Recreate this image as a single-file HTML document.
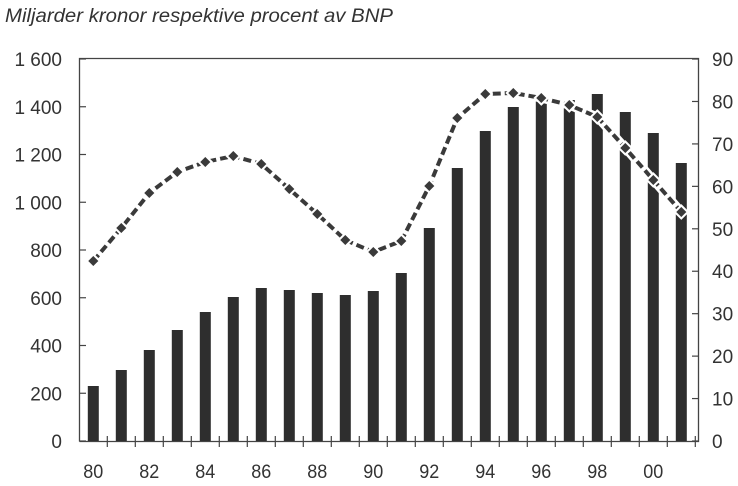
<!DOCTYPE html>
<html><head><meta charset="utf-8"><style>
html,body{margin:0;padding:0;background:#fff;}
svg{display:block;}
text{font-family:"Liberation Sans",sans-serif;fill:#333;}
</style></head><body>
<svg width="738" height="486" viewBox="0 0 738 486">
<text x="5" y="22" font-size="19" font-style="italic" textLength="388" lengthAdjust="spacingAndGlyphs">Miljarder kronor respektive procent av BNP</text>
<g stroke="#444" stroke-width="1.3" fill="none">
<path d="M79.5 441.5 V58.5 H698.5 V441.5 H79.5"/>
</g>
<g id="bars" fill="#2e2e2e"></g>
<g id="ticks" stroke="#444" stroke-width="1.2"></g>
<g id="labels" font-size="19"></g>
<polyline id="lw" fill="none" stroke="#fff" stroke-width="9" stroke-linejoin="round"/>
<polyline id="lb" fill="none" stroke="#3a3a3a" stroke-width="4" stroke-dasharray="8 4"/>
<g id="mk"></g>
</svg>
<script>
var ns="http://www.w3.org/2000/svg";
function el(t,a,p){var e=document.createElementNS(ns,t);for(var k in a)e.setAttribute(k,a[k]);document.getElementById(p).appendChild(e);return e;}
var bars=[386,370,350,330,312,297,288,290,293,295,291,273,228,168,131,107,100,100,94,112,133,163];
var line=[261,228,193,172,162,156,164,189,214,240,252,241,186,118,94,93,98,105,117,148,180,212];
var pts=[];
for(var i=0;i<22;i++){
 var cx=93.3+28*i;
 el("rect",{x:cx-5.5,y:bars[i],width:11,height:441-bars[i]},"bars");
 el("line",{x1:cx+14,y1:436,x2:cx+14,y2:447},"ticks");
 pts.push(cx+","+line[i]);
 if(i%2==0){var t=el("text",{x:cx-10,y:478,textLength:20,lengthAdjust:"spacingAndGlyphs"},"labels");t.textContent=String((80+i)%100).padStart(2,"0");}
}
document.getElementById("lw").setAttribute("points",pts.join(" "));
document.getElementById("lb").setAttribute("points",pts.join(" "));
for(var i=0;i<22;i++){var cx=93.3+28*i,y=line[i];
 el("polygon",{points:(cx)+","+(y-6.5)+" "+(cx+6.5)+","+y+" "+cx+","+(y+6.5)+" "+(cx-6.5)+","+y,fill:"#3a3a3a",stroke:"#fff","stroke-width":2},"mk");}
var L=["0","200","400","600","800","1 000","1 200","1 400","1 600"];
for(var j=0;j<9;j++){var y=441-j*47.75;
 el("line",{x1:79,y1:y,x2:86,y2:y},"ticks");
 var t=el("text",{x:62,y:y+7,"text-anchor":"end"},"labels");t.textContent=L[j];}
for(var j=0;j<10;j++){var y=441-j*42.44;
 el("line",{x1:692,y1:y,x2:699,y2:y},"ticks");
 var t=el("text",{x:712,y:y+7},"labels");t.textContent=String(j*10);}
</script>
</body></html>
